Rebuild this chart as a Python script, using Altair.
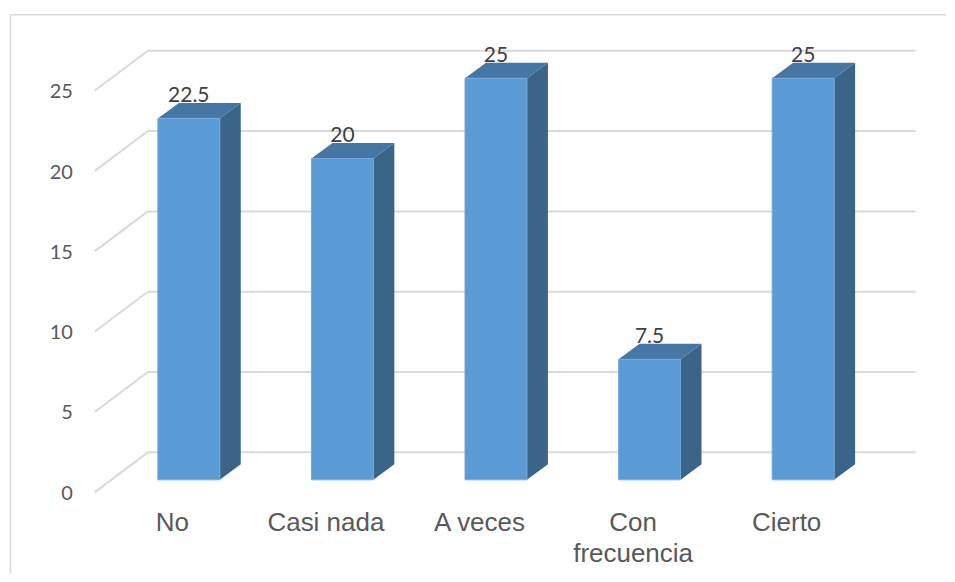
import altair as alt
import pandas as pd

# --- data -------------------------------------------------------------
categories = ["No", "Casi nada", "A veces", "Con\nfrecuencia", "Cierto"]
values = [22.5, 20, 25, 7.5, 25]
value_labels = ["22.5", "20", "25", "7.5", "25"]
ticks = [0, 5, 10, 15, 20, 25]

# --- pseudo-3D geometry, in scale units --------------------------------
PX_X, PX_Y = 153.75, 16.08          # pixels per category / per value unit
W, H = 939, 566
ORIGIN_X, ORIGIN_Y = 181, 472       # where category 0 / value 0 lie in the plot
half = 31 / PX_X
dx, dy = 21 / PX_X, 15.5 / PX_Y     # depth of the bars
back_x0, back_x1 = -41 / PX_X, 727.5 / PX_X
back_dy = 27.5 / PX_Y
front_x, front_dy = -94 / PX_X, -12.3 / PX_Y
tick_x, tick_dy = -116 / PX_X, -20 / PX_Y
cat_dx, cat_y = -16.5 / PX_X, -51.7 / PX_Y

xs = alt.Scale(domain=[-ORIGIN_X / PX_X, (W - ORIGIN_X) / PX_X], nice=False, zero=False)
ys = alt.Scale(domain=[-(H - ORIGIN_Y) / PX_Y, ORIGIN_Y / PX_Y], nice=False, zero=False)
X = alt.X("x:Q", scale=xs, axis=None)
Y = alt.Y("y:Q", scale=ys, axis=None)

GRID = "#d9d9d9"

bars = pd.DataFrame({
    "i": range(len(values)),
    "x": [i - half for i in range(len(values))],
    "x2": [i + half for i in range(len(values))],
    "y": values,
    "y2": [0] * len(values),
})

side = pd.DataFrame([
    row for i, v in enumerate(values) for row in (
        {"i": i, "x": i + half, "y": 0, "y2": v},
        {"i": i, "x": i + half + dx, "y": dy, "y2": v + dy},
    )
])

top = pd.DataFrame([
    row for i, v in enumerate(values) for row in (
        {"i": i, "x": i - half, "y": v, "y2": v},
        {"i": i, "x": i - half + dx, "y": v, "y2": v + dy},
        {"i": i, "x": i + half, "y": v, "y2": v + dy},
        {"i": i, "x": i + half + dx, "y": v + dy, "y2": v + dy},
    )
])

grid_back = pd.DataFrame({
    "x": [back_x0] * len(ticks),
    "x2": [back_x1] * len(ticks),
    "y": [t + back_dy for t in ticks],
})
grid_slant = pd.DataFrame([
    row for t in ticks for row in (
        {"t": t, "x": front_x, "y": t + front_dy},
        {"t": t, "x": back_x0, "y": t + back_dy},
    )
])

tick_df = pd.DataFrame({
    "x": [tick_x] * len(ticks),
    "y": [t + tick_dy for t in ticks],
    "label": [str(t) for t in ticks],
})
cat_df = pd.DataFrame({
    "x": [i + cat_dx for i in range(len(categories))],
    "y": [cat_y] * len(categories),
    "label": categories,
})
val_df = pd.DataFrame({"x": range(len(values)), "y": values, "label": value_labels})

# --- layers -----------------------------------------------------------
frame_top = alt.Chart(pd.DataFrame({"a": [0]})).mark_rule(color=GRID, strokeWidth=1.5).encode(
    x=alt.value(2.5), x2=alt.value(W), y=alt.value(6.5))
frame_left = alt.Chart(pd.DataFrame({"a": [0]})).mark_rule(color=GRID, strokeWidth=1.5).encode(
    x=alt.value(2.5), y=alt.value(6.5), y2=alt.value(H))

back = alt.Chart(grid_back).mark_rule(color=GRID, strokeWidth=2).encode(X, alt.X2("x2:Q"), Y)
slants = alt.Chart(grid_slant).mark_line(color=GRID, strokeWidth=2).encode(X, Y, detail="t:N")

front = alt.Chart(bars).mark_bar(color="#5b9bd5", stroke="#74a9dc", strokeWidth=1, cornerRadius=0).encode(
    X, alt.X2("x2:Q"), Y, alt.Y2("y2:Q"))
side_m = alt.Chart(side).mark_area(color="#3a6488", line=False).encode(
    X, Y, alt.Y2("y2:Q"), detail="i:N")
top_m = alt.Chart(top).mark_area(color="#4676a3", line=False).encode(
    X, Y, alt.Y2("y2:Q"), detail="i:N")

val_text = alt.Chart(val_df).mark_text(
    font="Lato", fontSize=21, color="#404040", baseline="alphabetic", align="center", dy=-16.5
).encode(X, Y, text="label:N")
tick_text = alt.Chart(tick_df).mark_text(
    font="Lato", fontSize=20, color="#595959", baseline="alphabetic", align="right"
).encode(X, Y, text="label:N")
cat_text = alt.Chart(cat_df).mark_text(
    font="Liberation Sans", fontSize=26, color="#595959", baseline="alphabetic", align="center",
    lineBreak="\n", lineHeight=31
).encode(X, Y, text="label:N")

chart = alt.layer(
    frame_top, frame_left, back, slants, side_m, top_m, front, val_text, tick_text, cat_text
).properties(
    width=W, height=H, padding=0, background="white"
).configure_view(stroke=None)

chart.save("out.html", embed_options={"renderer": "svg", "actions": False})
